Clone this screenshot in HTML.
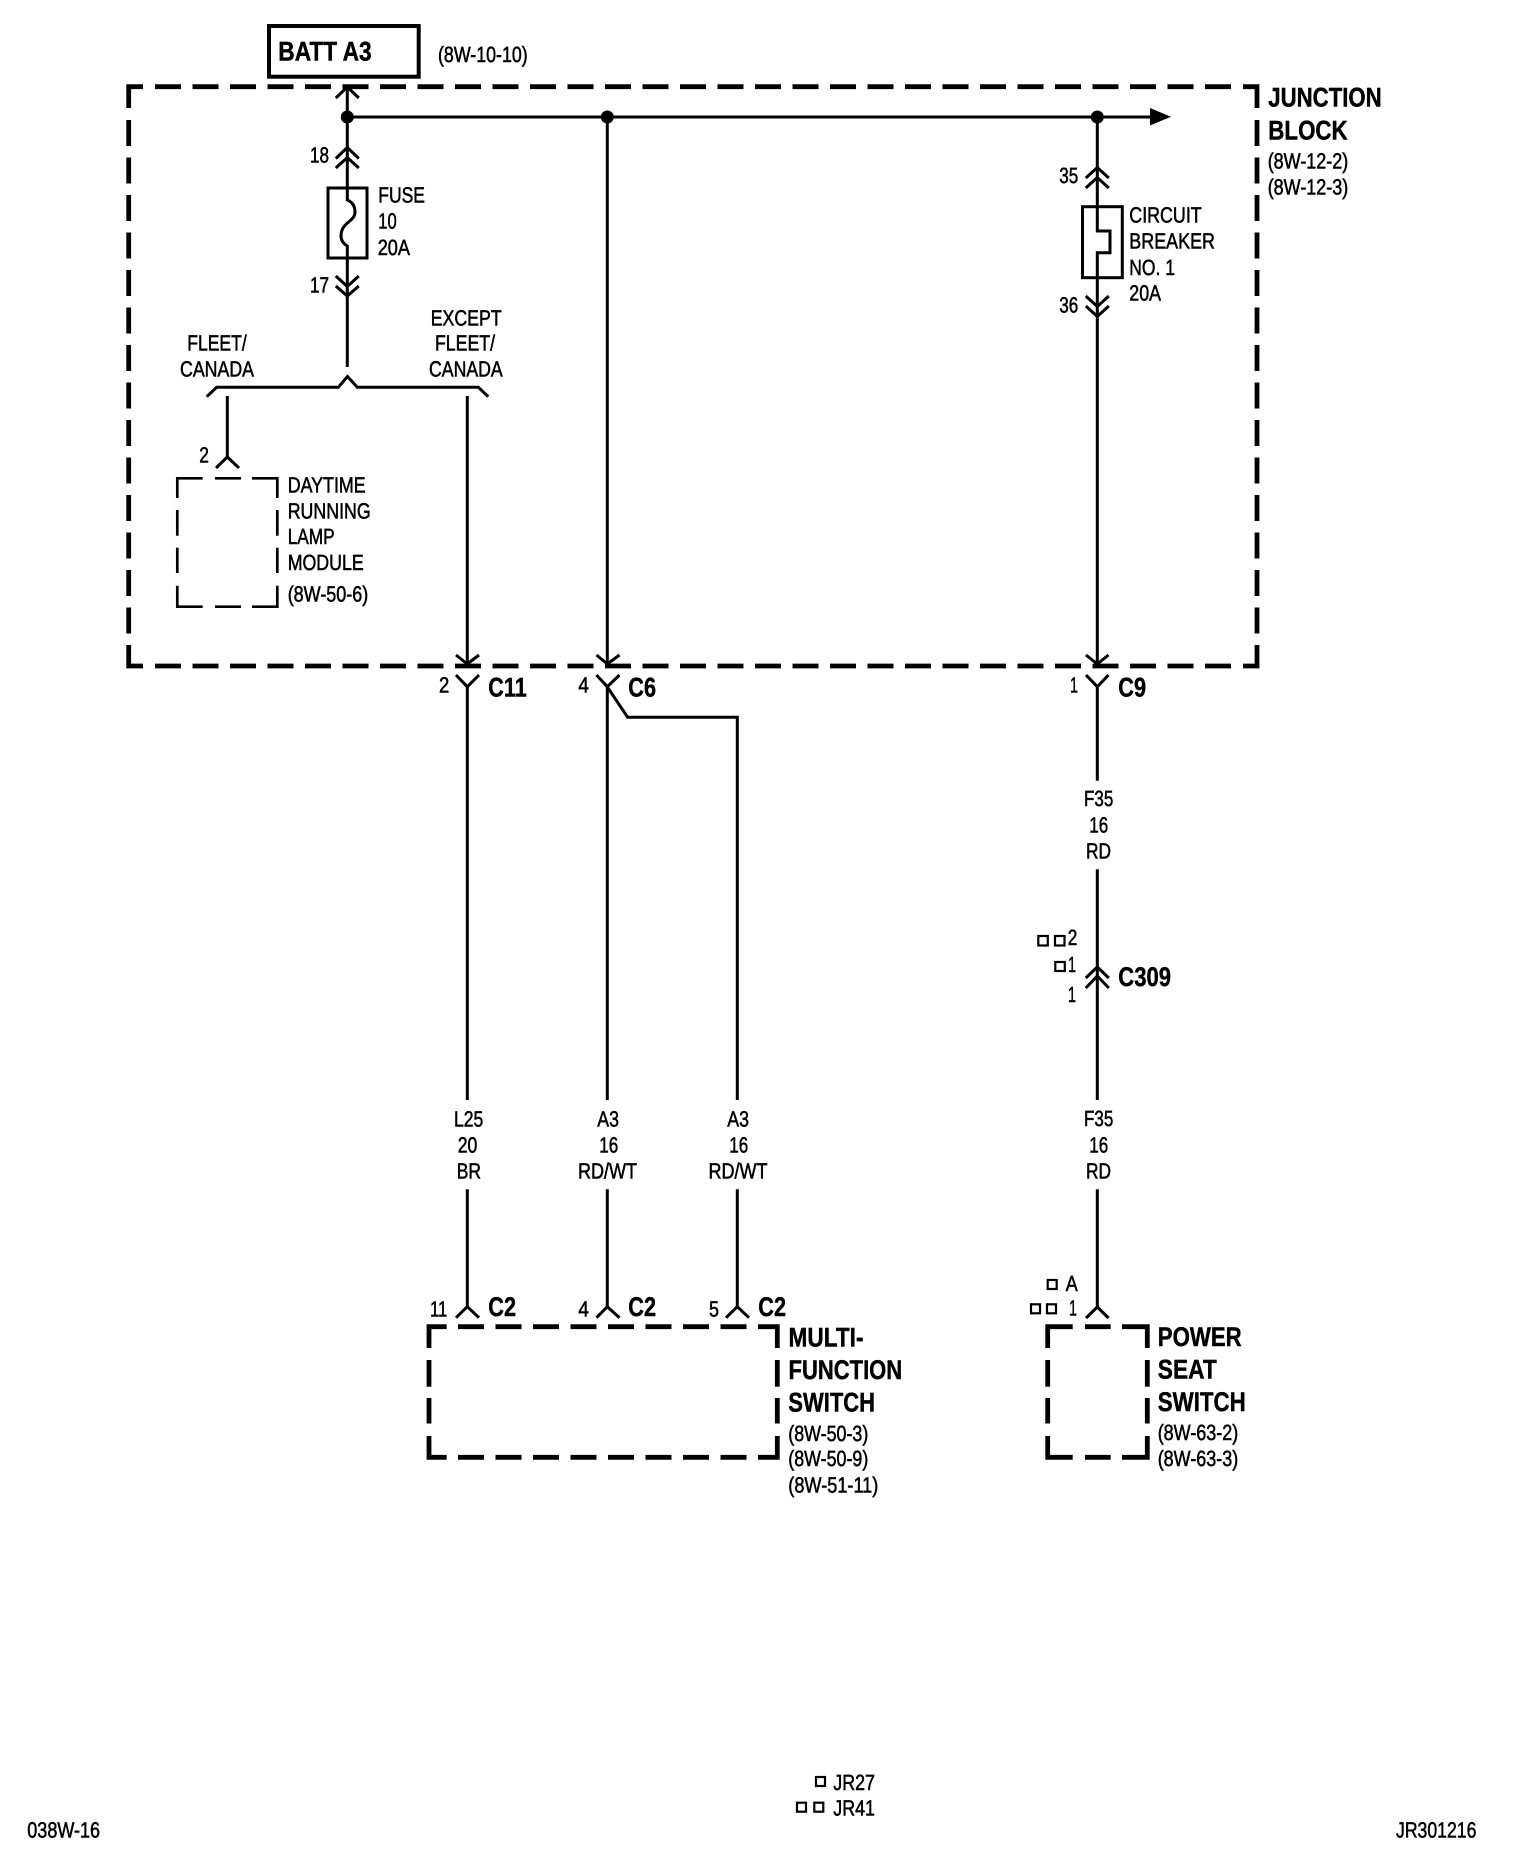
<!DOCTYPE html>
<html>
<head>
<meta charset="utf-8">
<style>
html,body{margin:0;padding:0;background:#fff;width:1520px;height:1854px;overflow:hidden}
svg{display:block}
text{fill:#000;font-family:"Liberation Sans",Arial,sans-serif;text-rendering:geometricPrecision}
.r{font-size:22px;stroke:#000;stroke-width:.55}
.b{font-size:27px;font-weight:bold;stroke:#000;stroke-width:.45}
.w{fill:none;stroke:#000;stroke-width:3;stroke-linejoin:miter}
.t{fill:none;stroke:#000;stroke-width:2.7}
.d{fill:none;stroke:#000;stroke-width:4.8;stroke-dasharray:26 11.5}
.c{fill:none;stroke:#000;stroke-width:4.8}
.q{fill:none;stroke:#000;stroke-width:2.2}
</style>
</head>
<body>
<svg width="1520" height="1854" viewBox="0 0 1520 1854" xmlns="http://www.w3.org/2000/svg">
<rect width="1520" height="1854" fill="#fff"/>

<!-- BATT box -->
<rect x="269" y="26" width="149.7" height="50.7" fill="none" stroke="#000" stroke-width="4"/>

<!-- Junction block -->
<path class="c" d="M128.7 108V86.7H143"/>
<path class="c" d="M1243 86.7H1257V108"/>
<path class="c" d="M128.7 645V666H143"/>
<path class="c" d="M1243 666H1257V645"/>
<line class="d" x1="155" y1="86.7" x2="1242" y2="86.7"/>
<line class="d" x1="155" y1="666" x2="1242" y2="666"/>
<line class="d" x1="128.7" y1="120" x2="128.7" y2="640"/>
<line class="d" x1="1257" y1="120" x2="1257" y2="640"/>

<!-- DRL module -->
<path class="t" d="M177.3 498V478.3H202.7"/>
<path class="t" d="M252 478.3H277.3V498"/>
<path class="t" d="M177.3 585.7V606.7H202.7"/>
<path class="t" d="M252 606.7H277.3V585.7"/>
<line class="t" x1="215" y1="478.3" x2="241" y2="478.3"/>
<line class="t" x1="215" y1="606.7" x2="241" y2="606.7"/>
<line class="t" x1="177.3" y1="510" x2="177.3" y2="535.7"/>
<line class="t" x1="177.3" y1="547.7" x2="177.3" y2="573"/>
<line class="t" x1="277.3" y1="510" x2="277.3" y2="535.7"/>
<line class="t" x1="277.3" y1="547.7" x2="277.3" y2="573"/>

<!-- Multi-function switch -->
<path class="c" d="M429 1348V1326.7H446.7"/>
<path class="c" d="M758 1326.7H777.3V1348"/>
<path class="c" d="M429 1436V1457.3H446.7"/>
<path class="c" d="M758 1457.3H777.3V1436"/>
<line class="d" x1="458" y1="1326.7" x2="750" y2="1326.7"/>
<line class="d" x1="458" y1="1457.3" x2="750" y2="1457.3"/>
<line class="c" x1="429" y1="1360" x2="429" y2="1386.7"/>
<line class="c" x1="429" y1="1398" x2="429" y2="1423.5"/>
<line class="c" x1="777.3" y1="1360" x2="777.3" y2="1386.7"/>
<line class="c" x1="777.3" y1="1398" x2="777.3" y2="1423.5"/>

<!-- Power seat switch -->
<path class="c" d="M1047.7 1348V1326.7H1072.7"/>
<path class="c" d="M1122 1326.7H1147.3V1348"/>
<path class="c" d="M1047.7 1436V1457.3H1072.7"/>
<path class="c" d="M1122 1457.3H1147.3V1436"/>
<line class="c" x1="1085" y1="1326.7" x2="1110.7" y2="1326.7"/>
<line class="c" x1="1085" y1="1457.3" x2="1110.7" y2="1457.3"/>
<line class="c" x1="1047.7" y1="1360" x2="1047.7" y2="1386.7"/>
<line class="c" x1="1047.7" y1="1398" x2="1047.7" y2="1423.5"/>
<line class="c" x1="1147.3" y1="1360" x2="1147.3" y2="1386.7"/>
<line class="c" x1="1147.3" y1="1398" x2="1147.3" y2="1423.5"/>

<!-- Bus -->
<path class="w" d="M347.3 86V187"/>
<path class="w" d="M347.3 117H1150"/>
<polygon points="1150,108 1171,116.7 1150,125.5" fill="#000"/>
<circle cx="347.3" cy="117" r="6.5" fill="#000"/>
<circle cx="607.3" cy="117" r="6.5" fill="#000"/>
<circle cx="1097.3" cy="117" r="6.5" fill="#000"/>

<!-- Top chevron -->
<polyline class="w" points="335.8,98 347.3,87 358.8,98"/>
<!-- 18 chevrons -->
<polyline class="w" points="335.8,158.5 347.3,147.5 358.8,158.5"/>
<polyline class="w" points="335.8,168 347.3,157.5 358.8,168"/>
<!-- Fuse -->
<rect x="328" y="188" width="39" height="70" fill="none" stroke="#000" stroke-width="3"/>
<path class="w" d="M347.3 187V200C352 202 355 206 355 212C355 222 341 222 341 236C341 241 344 244 347.3 246V367"/>
<!-- 17 chevrons -->
<polyline class="w" points="335.8,276 347.3,286.5 358.8,276"/>
<polyline class="w" points="335.8,286 347.3,296 358.8,286"/>
<!-- Bracket -->
<polyline class="w" points="206.7,396.7 216.7,387.3 338.3,387.3 347.5,376.5 357.3,387.3 478.3,387.3 488.3,396.7"/>
<line class="w" x1="227.3" y1="396" x2="227.3" y2="457"/>
<polyline class="w" points="216,468 227.3,457 239,468"/>
<line class="w" x1="467.3" y1="396" x2="467.3" y2="664"/>

<!-- Middle wire -->
<line class="w" x1="607.3" y1="117" x2="607.3" y2="664"/>
<!-- Right wire + breaker -->
<path class="w" d="M1097.3 117V231H1110V252.7H1097.3V666"/>
<rect x="1082.5" y="206.7" width="39.8" height="71" fill="none" stroke="#000" stroke-width="3"/>
<polyline class="w" points="1085.8,178 1097.3,167.5 1108.8,178"/>
<polyline class="w" points="1085.8,188 1097.3,177.5 1108.8,188"/>
<polyline class="w" points="1085.8,296 1097.3,306.5 1108.8,296"/>
<polyline class="w" points="1085.8,306 1097.3,316.5 1108.8,306"/>

<!-- Connector pairs at block bottom -->
<polyline class="w" points="456,655 467.3,664 479,655"/>
<polyline class="w" points="456,675 467.3,686.7 479,675"/>
<polyline class="w" points="596.5,655 607.3,664 619.5,655"/>
<polyline class="w" points="596.5,675 607.3,686.7 619.5,675"/>
<polyline class="w" points="1086,655 1097.3,664 1108.5,655"/>
<polyline class="w" points="1086,675 1097.3,686.7 1108.5,675"/>

<!-- Lower wires -->
<path class="w" d="M467.3 686V1100M467.3 1189.3V1307"/>
<path class="w" d="M607.3 686V1100M607.3 1189.3V1307"/>
<polyline class="w" points="608,688 627.7,717.3 737.3,717.3 737.3,1100"/>
<path class="w" d="M737.3 1189.3V1307"/>
<path class="w" d="M1097.3 686V780.7M1097.3 869.3V1100M1097.3 1189.3V1307"/>

<polyline class="w" points="456,1317.7 467.3,1306.7 479,1317.7"/>
<polyline class="w" points="596.5,1317.7 607.3,1306.7 619.5,1317.7"/>
<polyline class="w" points="726,1317.7 737.3,1306.7 749,1317.7"/>
<polyline class="w" points="1086,1318 1097.3,1307 1108.5,1318"/>
<polyline class="w" points="1085.8,978 1097.3,967 1108.8,978"/>
<polyline class="w" points="1085.8,988 1097.3,976 1108.8,988"/>

<!-- Small squares -->
<rect class="q" x="1038.3" y="936" width="9.5" height="9.5"/>
<rect class="q" x="1055" y="936" width="9.5" height="9.5"/>
<rect class="q" x="1055.3" y="962" width="9.5" height="9"/>
<rect class="q" x="1047.7" y="1280" width="9" height="9"/>
<rect class="q" x="1031" y="1304.3" width="9" height="9"/>
<rect class="q" x="1047" y="1304.3" width="9" height="9"/>
<rect class="q" x="816" y="1777" width="9" height="9"/>
<rect class="q" x="797" y="1802.7" width="9" height="9"/>
<rect class="q" x="814.3" y="1802.7" width="9" height="9"/>

<!-- Text -->
<text class="b" x="278.3" y="60.7" textLength="93.4" lengthAdjust="spacingAndGlyphs">BATT A3</text>
<text class="r" x="438" y="62" textLength="89.7" lengthAdjust="spacingAndGlyphs">(8W-10-10)</text>
<text class="r" x="310" y="162.7" textLength="19" lengthAdjust="spacingAndGlyphs">18</text>
<text class="r" x="310" y="292.3" textLength="19" lengthAdjust="spacingAndGlyphs">17</text>
<text class="r" x="378.3" y="202.7" textLength="46.7" lengthAdjust="spacingAndGlyphs">FUSE</text>
<text class="r" x="378.3" y="228.3" textLength="18.4" lengthAdjust="spacingAndGlyphs">10</text>
<text class="r" x="377.7" y="255" textLength="32.3" lengthAdjust="spacingAndGlyphs">20A</text>
<text class="r" x="187.3" y="350.7" textLength="59.4" lengthAdjust="spacingAndGlyphs">FLEET/</text>
<text class="r" x="180" y="376.7" textLength="74" lengthAdjust="spacingAndGlyphs">CANADA</text>
<text class="r" x="430.7" y="325.7" textLength="71" lengthAdjust="spacingAndGlyphs">EXCEPT</text>
<text class="r" x="435" y="350.7" textLength="60" lengthAdjust="spacingAndGlyphs">FLEET/</text>
<text class="r" x="429" y="376.7" textLength="73.7" lengthAdjust="spacingAndGlyphs">CANADA</text>

<text class="b" x="1268.3" y="106.7" textLength="113.4" lengthAdjust="spacingAndGlyphs">JUNCTION</text>
<text class="b" x="1268.3" y="139.3" textLength="79.4" lengthAdjust="spacingAndGlyphs">BLOCK</text>
<text class="r" x="1267.7" y="168.3" textLength="80.6" lengthAdjust="spacingAndGlyphs">(8W-12-2)</text>
<text class="r" x="1267.7" y="194.3" textLength="80.6" lengthAdjust="spacingAndGlyphs">(8W-12-3)</text>
<text class="r" x="1059.3" y="183" textLength="19" lengthAdjust="spacingAndGlyphs">35</text>
<text class="r" x="1059.3" y="312.5" textLength="19" lengthAdjust="spacingAndGlyphs">36</text>
<text class="r" x="1129.3" y="222.7" textLength="72.4" lengthAdjust="spacingAndGlyphs">CIRCUIT</text>
<text class="r" x="1129.3" y="248.3" textLength="85.7" lengthAdjust="spacingAndGlyphs">BREAKER</text>
<text class="r" x="1129.3" y="275" textLength="45.7" lengthAdjust="spacingAndGlyphs">NO. 1</text>
<text class="r" x="1129.3" y="300.7" textLength="31.7" lengthAdjust="spacingAndGlyphs">20A</text>

<text class="r" x="199.3" y="462.3" textLength="9.7" lengthAdjust="spacingAndGlyphs">2</text>
<text class="r" x="287.7" y="492.3" textLength="78" lengthAdjust="spacingAndGlyphs">DAYTIME</text>
<text class="r" x="287.7" y="518.3" textLength="83" lengthAdjust="spacingAndGlyphs">RUNNING</text>
<text class="r" x="287.7" y="544" textLength="47" lengthAdjust="spacingAndGlyphs">LAMP</text>
<text class="r" x="287.7" y="570" textLength="76" lengthAdjust="spacingAndGlyphs">MODULE</text>
<text class="r" x="287.7" y="601.7" textLength="80.6" lengthAdjust="spacingAndGlyphs">(8W-50-6)</text>

<text class="r" x="439" y="692.7" textLength="10.3" lengthAdjust="spacingAndGlyphs">2</text>
<text class="b" x="488.3" y="696.7" textLength="38.4" lengthAdjust="spacingAndGlyphs">C11</text>
<text class="r" x="578.3" y="692.7" textLength="10.7" lengthAdjust="spacingAndGlyphs">4</text>
<text class="b" x="628.3" y="696.7" textLength="27.7" lengthAdjust="spacingAndGlyphs">C6</text>
<text class="r" x="1070" y="692.3" textLength="8" lengthAdjust="spacingAndGlyphs">1</text>
<text class="b" x="1118.3" y="696.7" textLength="27.7" lengthAdjust="spacingAndGlyphs">C9</text>

<text class="r" x="1084" y="806" textLength="29.3" lengthAdjust="spacingAndGlyphs">F35</text>
<text class="r" x="1089.3" y="832.7" textLength="19" lengthAdjust="spacingAndGlyphs">16</text>
<text class="r" x="1086" y="858.3" textLength="25" lengthAdjust="spacingAndGlyphs">RD</text>

<text class="r" x="1067.7" y="945" textLength="9.6" lengthAdjust="spacingAndGlyphs">2</text>
<text class="r" x="1068" y="972" textLength="8" lengthAdjust="spacingAndGlyphs">1</text>
<text class="r" x="1068" y="1002" textLength="8" lengthAdjust="spacingAndGlyphs">1</text>
<text class="b" x="1118.3" y="986" textLength="52.7" lengthAdjust="spacingAndGlyphs">C309</text>

<text class="r" x="454" y="1126.7" textLength="29.3" lengthAdjust="spacingAndGlyphs">L25</text>
<text class="r" x="457.7" y="1152.3" textLength="19.6" lengthAdjust="spacingAndGlyphs">20</text>
<text class="r" x="456.7" y="1178.3" textLength="24.3" lengthAdjust="spacingAndGlyphs">BR</text>
<text class="r" x="597.3" y="1126.7" textLength="21.7" lengthAdjust="spacingAndGlyphs">A3</text>
<text class="r" x="599.3" y="1152.3" textLength="19" lengthAdjust="spacingAndGlyphs">16</text>
<text class="r" x="578" y="1178.3" textLength="59" lengthAdjust="spacingAndGlyphs">RD/WT</text>
<text class="r" x="727.3" y="1126.7" textLength="21.7" lengthAdjust="spacingAndGlyphs">A3</text>
<text class="r" x="729.3" y="1152.3" textLength="19" lengthAdjust="spacingAndGlyphs">16</text>
<text class="r" x="708.5" y="1178.3" textLength="59" lengthAdjust="spacingAndGlyphs">RD/WT</text>
<text class="r" x="1084" y="1126" textLength="29.3" lengthAdjust="spacingAndGlyphs">F35</text>
<text class="r" x="1089.3" y="1152.3" textLength="19" lengthAdjust="spacingAndGlyphs">16</text>
<text class="r" x="1086" y="1178.3" textLength="25" lengthAdjust="spacingAndGlyphs">RD</text>

<text class="r" x="430" y="1316.7" textLength="17.3" lengthAdjust="spacingAndGlyphs">11</text>
<text class="b" x="488.3" y="1316" textLength="27.7" lengthAdjust="spacingAndGlyphs">C2</text>
<text class="r" x="578.3" y="1316.7" textLength="10.7" lengthAdjust="spacingAndGlyphs">4</text>
<text class="b" x="628.3" y="1316" textLength="27.7" lengthAdjust="spacingAndGlyphs">C2</text>
<text class="r" x="709" y="1316.7" textLength="10" lengthAdjust="spacingAndGlyphs">5</text>
<text class="b" x="758.3" y="1316" textLength="27.7" lengthAdjust="spacingAndGlyphs">C2</text>

<text class="b" x="788.5" y="1346.7" textLength="75" lengthAdjust="spacingAndGlyphs">MULTI-</text>
<text class="b" x="788.5" y="1379" textLength="113.7" lengthAdjust="spacingAndGlyphs">FUNCTION</text>
<text class="b" x="788.3" y="1411.7" textLength="86.7" lengthAdjust="spacingAndGlyphs">SWITCH</text>
<text class="r" x="788.3" y="1441" textLength="80" lengthAdjust="spacingAndGlyphs">(8W-50-3)</text>
<text class="r" x="788.3" y="1466" textLength="80" lengthAdjust="spacingAndGlyphs">(8W-50-9)</text>
<text class="r" x="788.3" y="1492.3" textLength="90" lengthAdjust="spacingAndGlyphs">(8W-51-11)</text>

<text class="r" x="1065.7" y="1291" textLength="12" lengthAdjust="spacingAndGlyphs">A</text>
<text class="r" x="1069" y="1315.7" textLength="8" lengthAdjust="spacingAndGlyphs">1</text>
<text class="b" x="1157.8" y="1346" textLength="83.9" lengthAdjust="spacingAndGlyphs">POWER</text>
<text class="b" x="1157.8" y="1378.5" textLength="58.9" lengthAdjust="spacingAndGlyphs">SEAT</text>
<text class="b" x="1157.8" y="1411" textLength="87.9" lengthAdjust="spacingAndGlyphs">SWITCH</text>
<text class="r" x="1157.7" y="1440" textLength="80.6" lengthAdjust="spacingAndGlyphs">(8W-63-2)</text>
<text class="r" x="1157.7" y="1466" textLength="80.6" lengthAdjust="spacingAndGlyphs">(8W-63-3)</text>

<text class="r" x="833.3" y="1790" textLength="41.7" lengthAdjust="spacingAndGlyphs">JR27</text>
<text class="r" x="833.3" y="1815.7" textLength="41.7" lengthAdjust="spacingAndGlyphs">JR41</text>
<text class="r" x="27.3" y="1837.3" textLength="72.7" lengthAdjust="spacingAndGlyphs">038W-16</text>
<text class="r" x="1396" y="1837.3" textLength="80.4" lengthAdjust="spacingAndGlyphs">JR301216</text>
</svg>
</body>
</html>
